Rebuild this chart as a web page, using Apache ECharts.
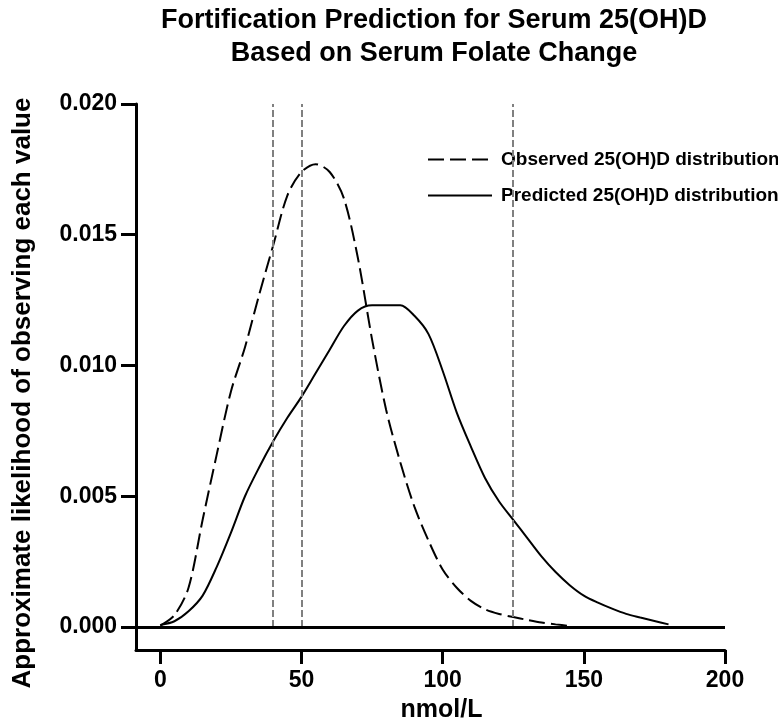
<!DOCTYPE html>
<html>
<head>
<meta charset="utf-8">
<script src="https://cdn.jsdelivr.net/npm/echarts@6/dist/echarts.min.js"></script>
<style>
	html, body { margin: 0; padding: 0; background: #fff; }
	#container { width: 778px; height: 722px; }
</style>
</head>
<body>
<div id="container"></div>
<script>
// observed 25(OH)D distribution (dashed)
var obsX = [ 0, 5, 10, 15, 20, 25, 30, 35, 40, 45, 50, 55, 60, 65, 70, 75, 80, 85, 90, 95, 100, 105, 110, 115, 120, 125, 130, 135, 140, 145 ];
var obsY = [ 0.00005, 0.00045, 0.0015, 0.0041, 0.0066, 0.0090, 0.0107, 0.0127, 0.0146, 0.0165, 0.0174, 0.0177, 0.0174, 0.0164, 0.0141, 0.0110, 0.0083, 0.0063, 0.0046, 0.0033, 0.0022, 0.0015, 0.0010, 0.00068, 0.0005, 0.00038, 0.00027, 0.00017, 0.0001, 0.00004 ];

// predicted 25(OH)D distribution (solid)
var predX = [ 0, 5, 10, 15, 20, 25, 30, 35, 40, 45, 50, 55, 60, 65, 70, 75, 80, 85, 90, 95, 100, 105, 110, 115, 120, 125, 130, 135, 140, 145, 150, 155, 160, 165, 170, 175, 180 ];
var predY = [ 0.00008, 0.00022, 0.0006, 0.0012, 0.0023, 0.0036, 0.0050, 0.0061, 0.0071, 0.0080, 0.0088, 0.0097, 0.0106, 0.0115, 0.0121, 0.0123, 0.0123, 0.0123, 0.0119, 0.0112, 0.0098, 0.0082, 0.0069, 0.0057, 0.0048, 0.0041, 0.0034, 0.0027, 0.0021, 0.0016, 0.0012, 0.00093, 0.0007, 0.0005, 0.00036, 0.00023, 0.0001 ];

// reference lines (nmol/L)
var refLines = [ 40, 50, 125 ];

var xTicks = [ 0, 50, 100, 150, 200 ];
var yTicks = [ 0, 0.005, 0.010, 0.015, 0.020 ];

var seriesNames = [ 'Observed 25(OH)D distribution', 'Predicted 25(OH)D distribution' ];

function pairs( xs, ys ) {
	var out = [];
	for ( var i = 0; i < xs.length; i++ ) {
		out.push( [ xs[i], ys[i] ] );
	}
	return out;
}

function initCharts() {
	var dom = document.getElementById( 'container' );
	var myChart = echarts.init( dom, null, { renderer: 'canvas' } );
	var font = 'Liberation Sans, Arial, sans-serif';

	var refData = refLines.map( function( v ) {
		return [ { coord: [ v, 0 ] }, { coord: [ v, yTicks[yTicks.length - 1] ] } ];
	} );

	var option = {
		animation: false,
		textStyle: { fontFamily: font },
		title: {
			text: 'Fortification Prediction for Serum 25(OH)D\nBased on Serum Folate Change',
			left: 434,
			top: 4,
			padding: 0,
			textAlign: 'center',
			textStyle: {
				fontFamily: font,
				fontSize: 27,
				fontWeight: 'bold',
				color: '#000',
				lineHeight: 33
			}
		},
		legend: {
			data: seriesNames,
			orient: 'vertical',
			left: 427,
			top: 150,
			padding: 0,
			itemWidth: 64,
			itemHeight: 14,
			itemGap: 17,
			itemStyle: { opacity: 0 },
			textStyle: {
				fontFamily: font,
				fontSize: 19,
				fontWeight: 'bold',
				color: '#000',
				padding: [ 0, 0, 0, 4 ]
			}
		},
		grid: {
			left: 136,
			right: 53,
			top: 104,
			bottom: 72,
			outerBoundsMode: 'none'
		},
		xAxis: {
			type: 'value',
			min: -8.6,
			max: 200,
			name: 'nmol/L',
			nameLocation: 'middle',
			nameGap: 48,
			nameTextStyle: {
				fontFamily: font,
				fontSize: 25,
				fontWeight: 'bold',
				color: '#000',
				padding: [ 0, 0, 0, 22 ]
			},
			axisLine: { onZero: false, lineStyle: { color: '#000', width: 3 } },
			axisTick: { customValues: xTicks, length: 14, lineStyle: { color: '#000', width: 3 } },
			axisLabel: {
				customValues: xTicks,
				margin: 19,
				fontFamily: font,
				fontSize: 23,
				fontWeight: 'bold',
				color: '#000'
			},
			splitLine: { show: false }
		},
		yAxis: {
			type: 'value',
			min: -0.00088,
			max: 0.020,
			name: 'Approximate likelihood of observing each value',
			nameLocation: 'middle',
			nameGap: 100,
			nameTextStyle: {
				fontFamily: font,
				fontSize: 26,
				fontWeight: 'bold',
				color: '#000',
				padding: [ 0, 32, 0, 0 ]
			},
			axisLine: { onZero: false, lineStyle: { color: '#000', width: 3 } },
			axisTick: { customValues: yTicks, length: 15, lineStyle: { color: '#000', width: 3 } },
			axisLabel: {
				customValues: yTicks,
				margin: 19,
				fontFamily: font,
				fontSize: 23,
				fontWeight: 'bold',
				color: '#000',
				formatter: function( v ) { return v.toFixed( 3 ); }
			},
			splitLine: { show: false }
		},
		series: [
			{
				name: 'refs',
				type: 'line',
				data: [],
				silent: true,
				markLine: {
					silent: true,
					symbol: 'none',
					label: { show: false },
					lineStyle: { color: '#808080', width: 2, type: [ 7, 3 ] },
					data: refData.concat( [
						{ yAxis: 0, lineStyle: { color: '#000', width: 3, type: 'solid' } }
					] )
				}
			},
			{
				name: seriesNames[0],
				type: 'line',
				data: pairs( obsX, obsY ),
				symbol: 'none',
				smooth: 0.3,
				lineStyle: { color: '#000', width: 2, type: [ 16, 6 ] },
				itemStyle: { color: '#000' }
			},
			{
				name: seriesNames[1],
				type: 'line',
				data: pairs( predX, predY ),
				symbol: 'none',
				smooth: 0.3,
				lineStyle: { color: '#000', width: 2, type: 'solid' },
				itemStyle: { color: '#000' }
			}
		]
	};

	if ( option && typeof option === 'object' ) {
		myChart.setOption( option, true );
	}
}

initCharts();
</script>
</body>
</html>
